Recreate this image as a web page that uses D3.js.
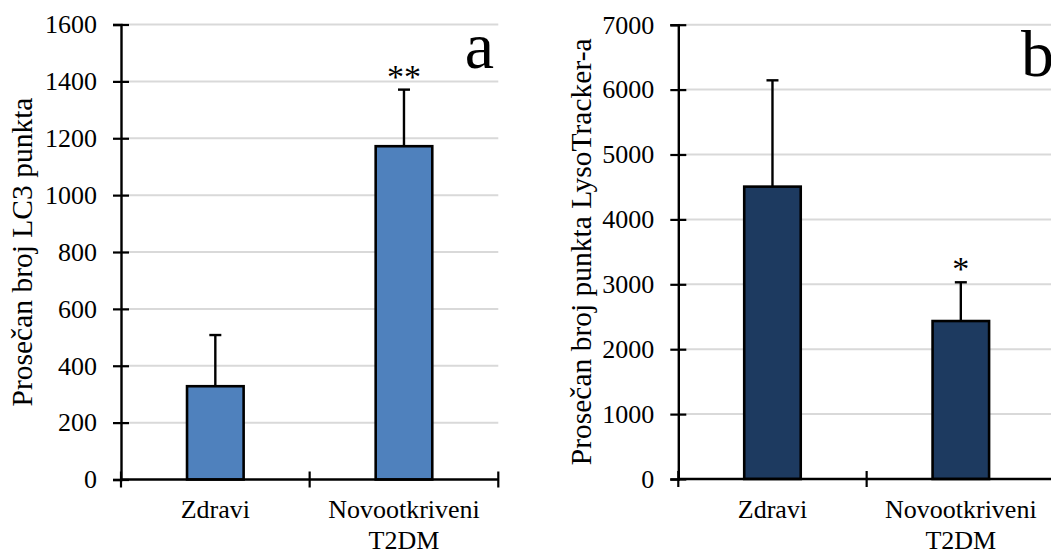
<!DOCTYPE html>
<html>
<head>
<meta charset="utf-8">
<script src="https://cdn.jsdelivr.net/npm/d3@7"></script>
<style>
  html, body { margin: 0; padding: 0; background: #fff; }
  svg { display: block; }
  svg text { font-family: "Liberation Serif", "Times New Roman", serif !important; fill: #000; }
</style>
</head>
<body>
<svg id="chart" width="1051" height="552"></svg>
<script>
// Groups shown on both panels
const categories = ["Zdravi", "Novootkriveni T2DM"];

// Panel a: LC3 puncta (mean and SD)
const lc3Means = [328, 1172];
const lc3Sd = [180, 199];
const lc3Ticks = [0, 200, 400, 600, 800, 1000, 1200, 1400, 1600];
const lc3Marks = ["", "**"];

// Panel b: LysoTracker puncta (mean and SD)
const lysoMeans = [4505, 2434];
const lysoSd = [1638, 597];
const lysoTicks = [0, 1000, 2000, 3000, 4000, 5000, 6000, 7000];
const lysoMarks = ["", "*"];

const serif = '"Liberation Serif", "Times New Roman", serif';
const svg = d3.select("#chart");

function drawPanel(opt) {
  const g = svg.append("g");
  const x = d3.scaleBand().domain(categories).range([opt.x0, opt.x1]).paddingInner(0).paddingOuter(0);
  const y = d3.scaleLinear().domain([0, opt.ticks[opt.ticks.length - 1]]).range([opt.yBottom, opt.yTop]);

  // horizontal gridlines
  g.append("g").selectAll("line")
    .data(opt.ticks.filter(t => t > 0))
    .join("line")
    .attr("x1", opt.x0).attr("x2", opt.x1)
    .attr("y1", d => y(d)).attr("y2", d => y(d))
    .attr("stroke", "#d9d9d9").attr("stroke-width", 2);

  // bars
  const barW = x.bandwidth() * 0.3;
  g.append("g").selectAll("rect")
    .data(opt.means)
    .join("rect")
    .attr("x", (d, i) => x(categories[i]) + x.bandwidth() / 2 - barW / 2)
    .attr("y", d => y(d))
    .attr("width", barW)
    .attr("height", d => y(0) - y(d))
    .attr("fill", opt.color)
    .attr("stroke", "#000").attr("stroke-width", 2.6);

  // error bars (upper SD) with significance marks
  const eb = g.append("g").attr("stroke", "#000").attr("stroke-width", 2.4);
  opt.means.forEach((m, i) => {
    const cx = x(categories[i]) + x.bandwidth() / 2;
    const top = y(m + opt.sd[i]);
    eb.append("line").attr("x1", cx).attr("x2", cx).attr("y1", y(m)).attr("y2", top);
    eb.append("line").attr("x1", cx - 6).attr("x2", cx + 6).attr("y1", top).attr("y2", top);
    if (opt.marks[i]) {
      g.append("text")
        .attr("x", cx).attr("y", top + opt.markDy)
        .attr("text-anchor", "middle")
        .style("font-family", serif)
        .style("font-size", "34px")
        .text(opt.marks[i]);
    }
  });

  // y axis
  const yAxis = d3.axisLeft(y).tickValues(opt.ticks).tickSize(8).tickPadding(16).tickFormat(d3.format("d"));
  const ya = g.append("g").attr("transform", `translate(${opt.x0},0)`).call(yAxis);
  ya.attr("font-family", null).attr("font-size", null);
  ya.select(".domain").attr("stroke", "#000").attr("stroke-width", 2.4);
  ya.selectAll(".tick line").attr("x1", -8).attr("x2", 8).attr("stroke", "#000").attr("stroke-width", 2.2);
  ya.selectAll(".tick text")
    .style("font-family", serif).style("font-size", "26px").attr("fill", "#000");

  // x axis baseline with crossing ticks at group boundaries
  const xa = g.append("g");
  xa.append("line")
    .attr("x1", opt.x0).attr("x2", opt.x1)
    .attr("y1", y(0)).attr("y2", y(0))
    .attr("stroke", "#000").attr("stroke-width", 2.4);
  const bounds = categories.map(c => x(c)).concat([opt.x1]);
  xa.selectAll("line.tk")
    .data(bounds)
    .join("line").attr("class", "tk")
    .attr("x1", d => d).attr("x2", d => d)
    .attr("y1", y(0) - 8).attr("y2", y(0) + 8)
    .attr("stroke", "#000").attr("stroke-width", 2.2);

  // category labels
  categories.forEach(c => {
    const words = c.split(" ");
    const t = g.append("text")
      .attr("x", x(c) + x.bandwidth() / 2)
      .attr("y", y(0) + 38.5)
      .attr("text-anchor", "middle")
      .style("font-family", serif)
      .style("font-size", "26px");
    words.forEach((w, j) => {
      t.append("tspan")
        .attr("x", x(c) + x.bandwidth() / 2)
        .attr("dy", j === 0 ? 0 : 31)
        .text(w);
    });
  });

  // y axis title
  g.append("text")
    .attr("transform", `translate(${opt.titleX},${(opt.yTop + opt.yBottom) / 2}) rotate(-90)`)
    .attr("text-anchor", "middle")
    .style("font-family", serif)
    .style("font-size", "29.5px")
    .text(opt.title);

  // panel letter
  g.append("text")
    .attr("x", opt.letterX).attr("y", opt.letterY)
    .attr("text-anchor", opt.letterAnchor)
    .style("font-family", serif)
    .style("font-size", "66px")
    .text(opt.letter);
}

drawPanel({
  x0: 121, x1: 498.3, yBottom: 479.5, yTop: 24.5,
  ticks: lc3Ticks, means: lc3Means, sd: lc3Sd, marks: lc3Marks,
  color: "#4f81bd", markDy: -2,
  title: "Prosečan broj LC3 punkta", titleX: 31.5,
  letter: "a", letterX: 494, letterY: 68, letterAnchor: "end"
});

drawPanel({
  x0: 678.3, x1: 1055, yBottom: 479, yTop: 24.7,
  ticks: lysoTicks, means: lysoMeans, sd: lysoSd, marks: lysoMarks,
  color: "#1d3a60", markDy: -2,
  title: "Prosečan broj punkta LysoTracker-a", titleX: 591,
  letter: "b", letterX: 1021, letterY: 76, letterAnchor: "start"
});
</script>
</body>
</html>
